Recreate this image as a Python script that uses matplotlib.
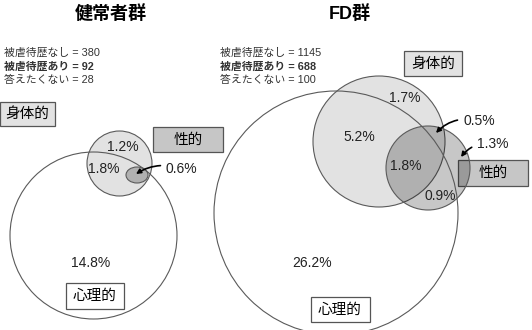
import matplotlib
matplotlib.use('Agg')
from matplotlib import pyplot as plt
from matplotlib.patches import Ellipse, Rectangle

plt.rcParams['font.family'] = ['Liberation Sans', 'Noto Sans CJK JP']

# group titles and respondent counts
groups = ['健常者群', 'FD群']
count_labels = ['被虐待歴なし', '被虐待歴あり', '答えたくない']
healthy_counts = [380, 92, 28]
fd_counts = [1145, 688, 100]

# percentages per region
healthy_pct = {'psych': 14.8, 'psych_phys': 1.8, 'phys': 1.2, 'sex': 0.6}
fd_pct = {'psych': 26.2, 'psych_phys': 5.2, 'phys': 1.7, 'all': 1.8,
          'phys_sex': 0.5, 'sex': 1.3, 'psych_sex': 0.9}

LIGHT = '#e2e2e2'
DARK = '#c6c6c6'
SEX = (0, 0, 0, 0.22)
EDGE = '#5a5a5a'

fig = plt.figure(figsize=(5.32, 3.30), dpi=100)
ax = fig.add_axes([0, 0, 1, 1])
ax.set_xlim(0, 532)
ax.set_ylim(330, 0)
ax.axis('off')


def circle(x, y, w, h, fc, z=1):
    ax.add_patch(Ellipse((x, y), w, h, facecolor=fc, edgecolor=EDGE, lw=0.8, zorder=z))


def box(x, y, w, h, text, fc):
    ax.add_patch(Rectangle((x - w / 2, y - h / 2), w, h, facecolor=fc,
                           edgecolor='#555555', lw=0.9, zorder=5))
    ax.text(x, y, text, ha='center', va='center', fontsize=10.5, zorder=8)


def pct(x, y, v):
    ax.text(x, y, f'{v}%', ha='center', va='center', fontsize=10, color='#222222', zorder=8)


def arrow(tx, ty, hx, hy, v, rad=0.3):
    ax.annotate(f'{v}%', xy=(hx, hy), xytext=(tx, ty), ha='left', va='center',
                fontsize=10, color='#222222', zorder=9,
                arrowprops=dict(arrowstyle='-|>', color='black', lw=1.2,
                                mutation_scale=7, shrinkA=2, shrinkB=0,
                                connectionstyle=f'arc3,rad={rad}'))


def counts(x, vals):
    for i, (lab, v) in enumerate(zip(count_labels, vals)):
        ax.text(x, 53 + i * 13.5, f'{lab} = {v}', ha='left', va='center', fontsize=7.8,
                color='#333333', fontweight='bold' if i == 1 else 'normal')


# --- healthy group ---
ax.text(111, 14, groups[0], ha='center', va='center', fontsize=13, fontweight='bold')
counts(4, healthy_counts)
circle(119.5, 163.5, 65, 65, LIGHT)
circle(93.5, 235.5, 167, 167, 'none')
circle(137, 175, 22, 16, SEX)
pct(123, 147, healthy_pct['phys'])
pct(104, 169, healthy_pct['psych_phys'])
pct(91, 263, healthy_pct['psych'])
arrow(166, 169, 136, 174, healthy_pct['sex'], rad=0.25)
box(27.5, 114, 55, 24, '身体的', LIGHT)
box(188, 139.5, 70, 25, '性的', DARK)
box(95, 296, 58, 26, '心理的', 'white')

# --- FD group ---
ax.text(350, 14, groups[1], ha='center', va='center', fontsize=13, fontweight='bold')
counts(220, fd_counts)
circle(379, 141.5, 132, 131, LIGHT)
circle(428, 168, 84, 84, SEX, z=6)
circle(336, 213, 244, 244, 'none', z=6)
pct(405, 98, fd_pct['phys'])
pct(359, 137, fd_pct['psych_phys'])
pct(406, 166, fd_pct['all'])
pct(440, 196, fd_pct['psych_sex'])
pct(312, 263, fd_pct['psych'])
arrow(463, 121, 436, 133, fd_pct['phys_sex'], rad=0.3)
arrow(477, 144, 461, 157, fd_pct['sex'], rad=0.3)
box(433, 63.5, 58, 25, '身体的', LIGHT)
box(493, 173, 70, 26, '性的', DARK)
box(340, 309.5, 59, 25, '心理的', 'white')

fig.savefig('out.png', dpi=100)
